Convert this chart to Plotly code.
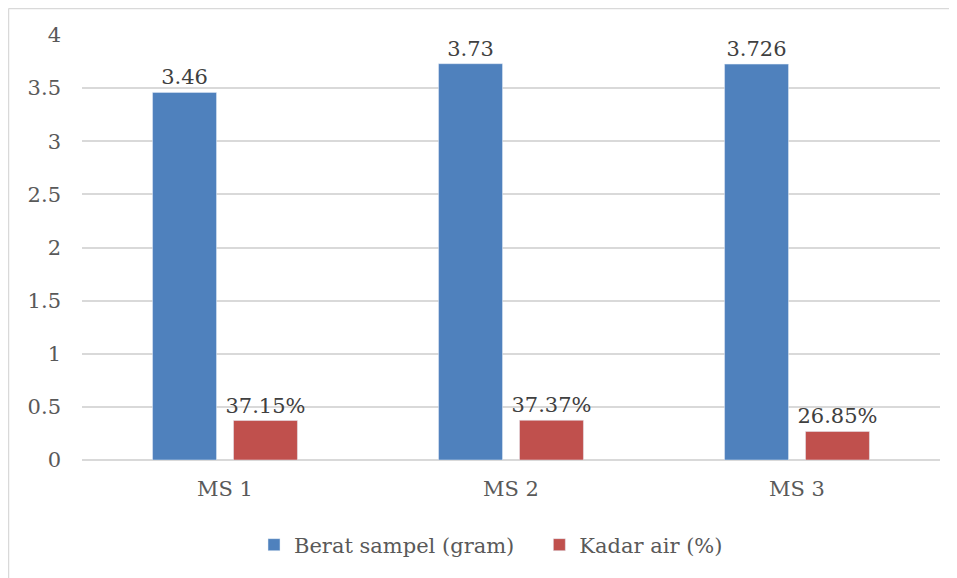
import plotly.graph_objects as go

categories = ["MS 1", "MS 2", "MS 3"]
berat = [3.46, 3.73, 3.726]
berat_labels = ["3.46", "3.73", "3.726"]
kadar = [0.3715, 0.3737, 0.2685]
kadar_labels = ["37.15%", "37.37%", "26.85%"]
y_ticks = [0, 0.5, 1, 1.5, 2, 2.5, 3, 3.5, 4]
y_tick_text = ["0", "0.5", "1", "1.5", "2", "2.5", "3", "3.5", "4"]

FONT = "DejaVu Serif"
TXT = "#595959"
fs = 21

fig = go.Figure()
fig.add_trace(go.Bar(
    x=categories, y=berat, name="Berat sampel (gram)\u00a0\u00a0\u00a0",
    marker=dict(color="#4F81BD"),
    text=berat_labels, textposition="outside", constraintext="none",
    textfont=dict(family=FONT, size=fs, color="#404040"),
    cliponaxis=False,
))
fig.add_trace(go.Bar(
    x=categories, y=kadar, name="Kadar air (%)",
    marker=dict(color="#C0504D"),
    text=kadar_labels, textposition="outside", constraintext="none",
    textfont=dict(family=FONT, size=fs, color="#404040"),
    cliponaxis=False,
))

# page has an 8px body margin; figure coordinates are offset by it
OFF = 8
W, H = 957 - OFF, 578 - OFF
L, R, T, B = 82 - OFF, 17, 35 - OFF, 118
pw, ph = W - L - R, H - T - B

def px_to_paper_x(px):
    return (px - OFF - L) / pw

def px_to_paper_y(py):
    return (H - B - (py - OFF)) / ph

fig.update_layout(
    width=W, height=H,
    margin=dict(l=L, r=R, t=T, b=B),
    paper_bgcolor="white", plot_bgcolor="white",
    barmode="group", bargap=0.434, bargroupgap=0.21,
    font=dict(family=FONT, size=fs, color=TXT),
    showlegend=True,
    legend=dict(orientation="h", x=px_to_paper_x(491), xanchor="center", y=px_to_paper_y(545), yanchor="middle",
                font=dict(family=FONT, size=fs, color=TXT), itemwidth=30,
                bgcolor="rgba(0,0,0,0)"),
    xaxis=dict(showgrid=False, showline=False, zeroline=False, ticks="",
               tickfont=dict(family=FONT, size=fs, color=TXT), ticklabelstandoff=14),
    yaxis=dict(range=[0, 4], tickvals=y_ticks, ticktext=y_tick_text,
               showgrid=True, gridcolor="#D9D9D9", gridwidth=1.5,
               zeroline=True, zerolinecolor="#D9D9D9", zerolinewidth=1.5,
               showline=False, ticks="",
               tickfont=dict(family=FONT, size=fs, color=TXT), ticklabelstandoff=20),
    shapes=[
        dict(type="line", xref="paper", yref="paper",
             x0=px_to_paper_x(8.5), x1=px_to_paper_x(960), y0=px_to_paper_y(8.5), y1=px_to_paper_y(8.5),
             line=dict(color="#D9D9D9", width=1.5)),
        dict(type="line", xref="paper", yref="paper",
             x0=px_to_paper_x(8.5), x1=px_to_paper_x(8.5), y0=px_to_paper_y(8.5), y1=px_to_paper_y(580),
             line=dict(color="#D9D9D9", width=1.5)),
    ],
)

fig.write_html("out.html")
